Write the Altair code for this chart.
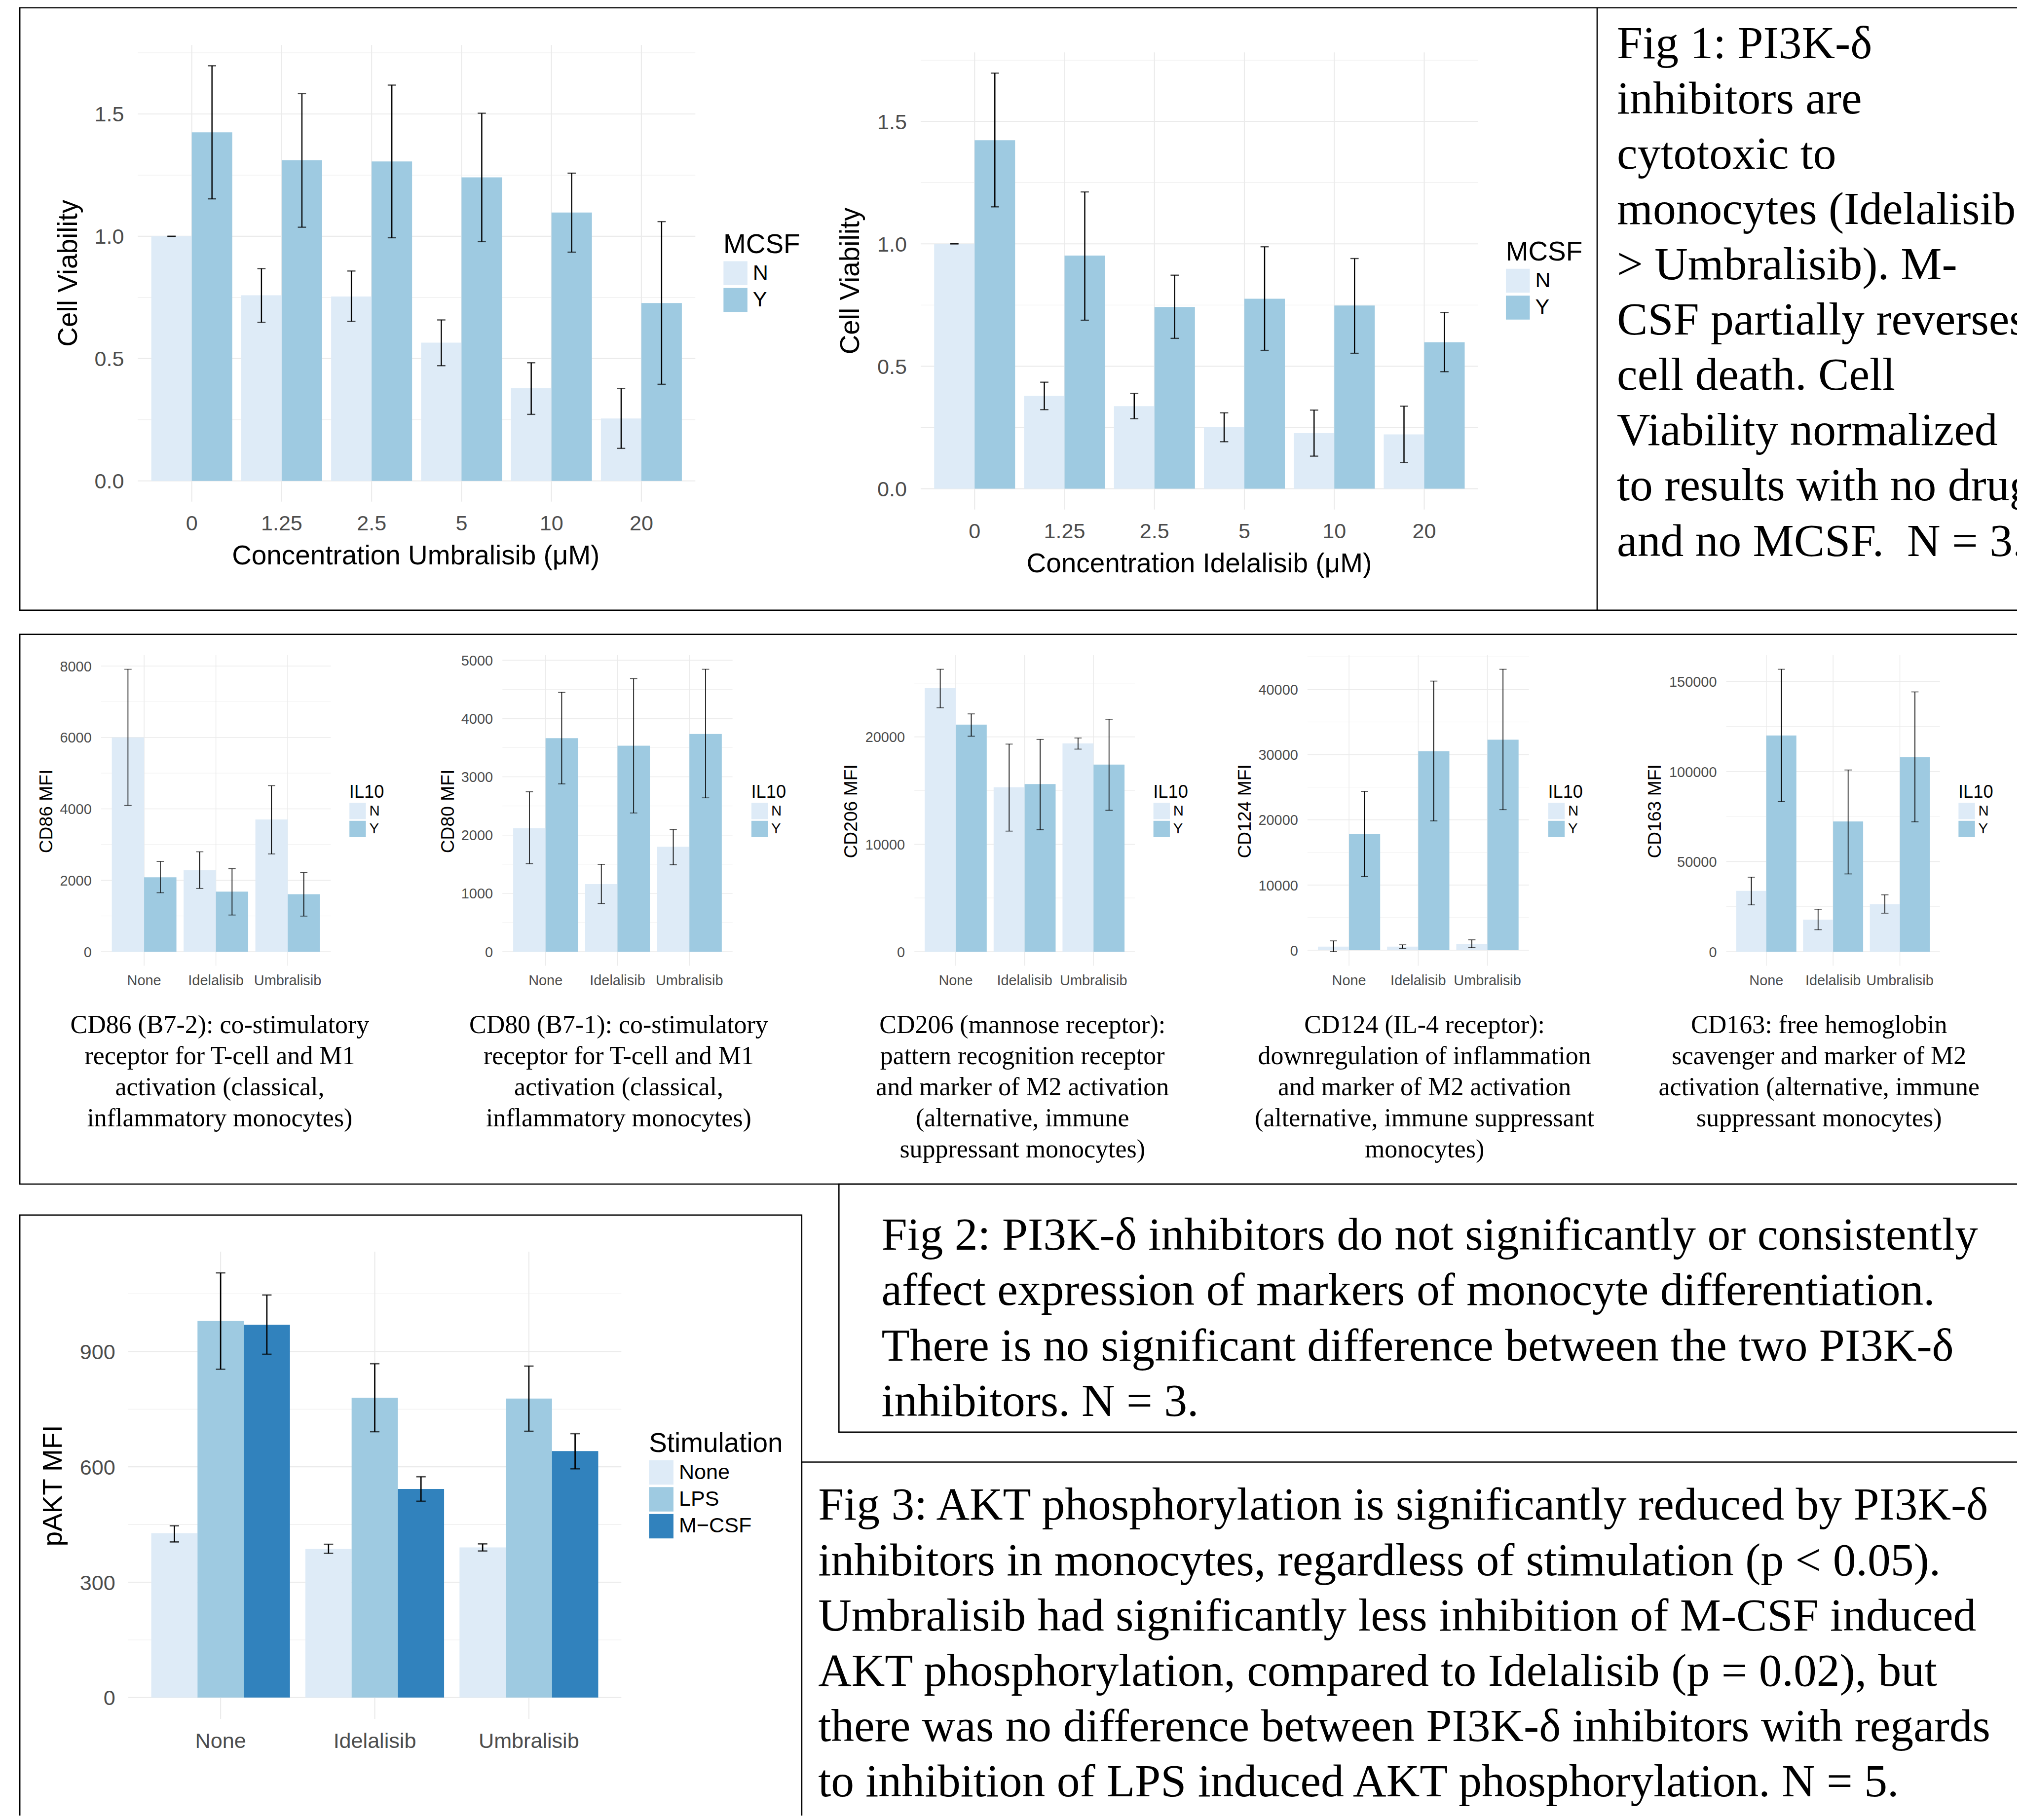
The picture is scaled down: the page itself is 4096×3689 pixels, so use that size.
import altair as alt
import pandas as pd

K = 0.98
W, H = 4080, 3672


def P(v):
    """reference pixel position -> chart coordinate"""
    return round(K * v - 8, 2)


def S(v):
    """reference size -> drawn size"""
    return round(K * v, 2)


SANS = "Liberation Sans"
SERIF = "Liberation Serif"
GRID = "#EBEBEB"
TICKLAB = "#4D4D4D"

# ---------------- Fig 1: cell viability ----------------
conc = ["0", "1.25", "2.5", "5", "10", "20"]
mcsf = ["N", "Y"]

umb_N = [1.00, 0.759, 0.754, 0.565, 0.379, 0.255]
umb_N_lo = [1.00, 0.648, 0.652, 0.471, 0.272, 0.133]
umb_N_hi = [1.00, 0.868, 0.858, 0.658, 0.483, 0.378]
umb_Y = [1.425, 1.311, 1.306, 1.241, 1.097, 0.727]
umb_Y_lo = [1.153, 1.037, 0.994, 0.978, 0.935, 0.395]
umb_Y_hi = [1.697, 1.583, 1.618, 1.503, 1.258, 1.060]

ide_N = [1.00, 0.379, 0.337, 0.253, 0.227, 0.222]
ide_N_lo = [1.00, 0.323, 0.286, 0.192, 0.133, 0.107]
ide_N_hi = [1.00, 0.435, 0.389, 0.310, 0.321, 0.337]
ide_Y = [1.423, 0.952, 0.742, 0.776, 0.748, 0.598]
ide_Y_lo = [1.151, 0.688, 0.614, 0.565, 0.553, 0.478]
ide_Y_hi = [1.697, 1.212, 0.872, 0.988, 0.940, 0.720]

# ---------------- Fig 2: differentiation markers ----------------
drugs = ["None", "Idelalisib", "Umbralisib"]
il10 = ["N", "Y"]

cd86_N = [6000, 2284, 3703]
cd86_N_lo = [4096, 1771, 2737]
cd86_N_hi = [7909, 2797, 4649]
cd86_Y = [2083, 1681, 1610]
cd86_Y_lo = [1650, 1026, 996]
cd86_Y_hi = [2526, 2325, 2214]

cd80_N = [2121, 1159, 1800]
cd80_N_lo = [1510, 826, 1492]
cd80_N_hi = [2744, 1498, 2096]
cd80_Y = [3662, 3533, 3736]
cd80_Y_lo = [2879, 2380, 2639]
cd80_Y_hi = [4451, 4686, 4846]

cd206_N = [24556, 15310, 19397]
cd206_N_lo = [22714, 11223, 18861]
cd206_N_hi = [26298, 19330, 19899]
cd206_Y = [21139, 15611, 17420]
cd206_Y_lo = [20067, 11357, 13166]
cd206_Y_hi = [22144, 19765, 21641]

cd124_N = [551, 551, 992]
cd124_N_lo = [-220, 275, 386]
cd124_N_hi = [1433, 826, 1598]
cd124_Y = [17851, 30523, 32287]
cd124_Y_lo = [11295, 19835, 21543]
cd124_Y_hi = [24353, 41267, 43085]

cd163_N = [33753, 17775, 26363]
cd163_N_lo = [25964, 12183, 21370]
cd163_N_hi = [41343, 23567, 31556]
cd163_Y = [120032, 72299, 108049]
cd163_Y_lo = [83283, 43140, 72099]
cd163_Y_hi = [156780, 100859, 144198]

# ---------------- Fig 3: pAKT ----------------
stims = ["None", "LPS", "M\u2212CSF"]
pakt_none = [427.4, 386.3, 390.4]
pakt_none_lo = [404.8, 375.0, 381.2]
pakt_none_hi = [446.9, 398.6, 399.7]
pakt_lps = [980.1, 779.8, 777.7]
pakt_lps_lo = [853.8, 691.4, 692.5]
pakt_lps_hi = [1104.5, 868.2, 862.0]
pakt_mcsf = [969.9, 542.5, 641.1]
pakt_mcsf_lo = [892.8, 510.6, 594.9]
pakt_mcsf_hi = [1046.9, 574.3, 686.3]

blue2 = ["#deebf7", "#9ecae1"]
blue3 = ["#deebf7", "#9ecae1", "#3182bd"]

# ---------------- texts ----------------
fig1_lines = ["Fig 1: PI3K-\u03b4", "inhibitors are", "cytotoxic to",
              "monocytes (Idelalisib", "> Umbralisib). M-", "CSF partially reverses",
              "cell death. Cell", "Viability normalized", "to results with no drug",
              "and no MCSF.\u00a0 N = 3."]
fig2_lines = ["Fig 2: PI3K-\u03b4 inhibitors do not significantly or consistently",
              "affect expression of markers of monocyte differentiation.",
              "There is no significant difference between the two PI3K-\u03b4",
              "inhibitors. N = 3."]
fig3_lines = ["Fig 3: AKT phosphorylation is significantly reduced by PI3K-\u03b4",
              "inhibitors in monocytes, regardless of stimulation (p < 0.05).",
              "Umbralisib had significantly less inhibition of M-CSF induced",
              "AKT phosphorylation, compared to Idelalisib (p = 0.02), but",
              "there was no difference between PI3K-\u03b4 inhibitors with regards",
              "to inhibition of LPS induced AKT phosphorylation. N = 5."]
cap_cd86 = ["CD86 (B7-2): co-stimulatory", "receptor for T-cell and M1",
            "activation (classical,", "inflammatory monocytes)"]
cap_cd80 = ["CD80 (B7-1): co-stimulatory", "receptor for T-cell and M1",
            "activation (classical,", "inflammatory monocytes)"]
cap_cd206 = ["CD206 (mannose receptor):", "pattern recognition receptor",
             "and marker of M2 activation", "(alternative, immune",
             "suppressant monocytes)"]
cap_cd124 = ["CD124 (IL-4 receptor):", "downregulation of inflammation",
             "and marker of M2 activation", "(alternative, immune suppressant",
             "monocytes)"]
cap_cd163 = ["CD163: free hemoglobin", "scavenger and marker of M2",
             "activation (alternative, immune", "suppressant monocytes)"]

one = pd.DataFrame({"k": [0]})


def frame(cats, groups, means, los, his):
    rows = []
    for gi, g in enumerate(groups):
        for ci, c in enumerate(cats):
            rows.append({"cat": c, "grp": g, "mean": means[gi][ci],
                         "lo": los[gi][ci], "hi": his[gi][ci]})
    return pd.DataFrame(rows)


def label_text(txt, x, y, fs, angle=0, align="center", font=SANS, color="black"):
    mk = dict(align=align, baseline="alphabetic", font=font, fontSize=S(fs), color=color)
    if angle:
        mk["angle"] = angle
    return alt.Chart(one).mark_text(**mk).encode(
        x=alt.value(P(x)), y=alt.value(P(y)), text=alt.value(txt))


def panel(df, cats, groups, colors, box, majors, minors, fmt, fs_tick, fs_title,
          ylab_pad, xlab_base, ytitle, ytitle_at, xtitle, xtitle_at,
          leg_title, leg_at, leg_fs_title, leg_fs_label, key, pitch, lab_off, keys_top,
          grid_w, err_w, cap):
    pl, pr, pt, pb = box
    lo = min(0.0, float(df["lo"].min()))
    hi = float(df["hi"].max())
    span = hi - lo
    ydom = [lo - 0.05 * span, hi + 0.05 * span]

    xscale = alt.Scale(domain=cats, range=[P(pl), P(pr)], paddingInner=0.1, paddingOuter=0.15)
    yscale = alt.Scale(domain=ydom, range=[P(pb), P(pt)], nice=False, zero=False)
    oscale = alt.Scale(domain=groups, paddingInner=0, paddingOuter=0)
    xn = alt.X("cat:N", sort=cats, scale=xscale, axis=None)

    maj_df = pd.DataFrame({"v": majors})
    min_df = pd.DataFrame({"v": minors})
    cat_df = pd.DataFrame({"cat": cats})

    h_minor = alt.Chart(min_df).mark_rule(color=GRID, strokeWidth=S(grid_w / 2)).encode(
        y=alt.Y("v:Q", scale=yscale, axis=None), x=alt.value(P(pl)), x2=alt.value(P(pr)))
    h_major = alt.Chart(maj_df).mark_rule(color=GRID, strokeWidth=S(grid_w)).encode(
        y=alt.Y("v:Q", scale=yscale, axis=None), x=alt.value(P(pl)), x2=alt.value(P(pr)))
    v_major = alt.Chart(cat_df).mark_rule(color=GRID, strokeWidth=S(grid_w)).encode(
        x=xn, y=alt.value(P(pt)), y2=alt.value(P(pb)))

    y_labels = alt.Chart(maj_df).mark_text(
        align="right", baseline="middle", dy=round(0.058 * S(fs_tick), 2), font=SANS,
        fontSize=S(fs_tick), color=TICKLAB).encode(
        y=alt.Y("v:Q", scale=yscale, axis=None), x=alt.value(round(P(pl) - S(ylab_pad), 2)),
        text=alt.Text("v:Q", format=fmt))
    x_labels = alt.Chart(cat_df).mark_text(
        align="center", baseline="alphabetic", font=SANS, fontSize=S(fs_tick),
        color=TICKLAB).encode(x=xn, y=alt.value(P(xlab_base)), text="cat:N")

    leg_y = P(leg_at[1])
    legend = alt.Legend(orient="none", legendX=P(leg_at[0]), legendY=leg_y,
                        title=leg_title, titleFont=SANS, titleFontSize=S(leg_fs_title),
                        titleFontWeight="normal", titleColor="black",
                        titlePadding=round(P(keys_top) - (leg_y + S(leg_fs_title)), 2),
                        titleLimit=2000, titleAnchor="start",
                        labelFont=SANS, labelFontSize=S(leg_fs_label), labelColor="black",
                        labelOffset=S(lab_off), labelLimit=2000,
                        symbolType="square", symbolSize=round(S(key) ** 2, 1),
                        symbolStrokeWidth=0, symbolOpacity=1,
                        rowPadding=round(S(pitch) - S(key), 2), padding=0)

    base = alt.Chart(df)
    xo = alt.XOffset("grp:N", sort=groups, scale=oscale)
    bars = base.mark_bar().encode(
        x=xn, xOffset=xo,
        y=alt.Y("mean:Q", scale=yscale, axis=None),
        y2=alt.Y2Datum(0),
        color=alt.Color("grp:N", sort=groups, scale=alt.Scale(domain=groups, range=colors),
                        legend=legend),
    )
    rules = base.mark_rule(color="black", strokeWidth=S(err_w)).encode(
        x=xn, xOffset=xo, y=alt.Y("lo:Q", scale=yscale, axis=None), y2="hi:Q")
    t_lo = base.mark_tick(color="black", orient="horizontal", size=S(cap),
                          thickness=S(err_w)).encode(
        x=xn, xOffset=xo, y=alt.Y("lo:Q", scale=yscale, axis=None))
    t_hi = base.mark_tick(color="black", orient="horizontal", size=S(cap),
                          thickness=S(err_w)).encode(
        x=xn, xOffset=xo, y=alt.Y("hi:Q", scale=yscale, axis=None))

    parts = [h_minor, h_major, v_major, bars, rules, t_lo, t_hi, y_labels, x_labels,
             label_text(ytitle, ytitle_at[0], ytitle_at[1], fs_title, angle=270)]
    if xtitle:
        parts.append(label_text(xtitle, xtitle_at[0], xtitle_at[1], fs_title))
    return alt.layer(*parts)


def textblock(lines, x, y, fs, lh, align="left"):
    return alt.Chart(one).mark_text(
        align=align, baseline="alphabetic", font=SERIF, fontSize=S(fs),
        lineHeight=S(lh), color="black").encode(
        x=alt.value(P(x)), y=alt.value(P(y)), text=alt.value(lines))


def frame_rect(x1, y1, x2, y2):
    return alt.Chart(one).mark_rect(fillOpacity=0, stroke="black", strokeWidth=S(2.6)).encode(
        x=alt.value(P(x1)), x2=alt.value(P(x2)), y=alt.value(P(y1)), y2=alt.value(P(y2)))


layers = []

# borders
layers.append(frame_rect(41, 16, 4400, 1262))
layers.append(alt.Chart(one).mark_rule(color="black", strokeWidth=S(2.6)).encode(
    x=alt.value(P(3303)), y=alt.value(P(16)), y2=alt.value(P(1262))))
layers.append(frame_rect(41, 1312, 4400, 2449))
layers.append(frame_rect(41, 2513, 1658, 3900))
layers.append(frame_rect(1735, 2449, 4400, 2962))
layers.append(frame_rect(1658, 3024, 4400, 3900))

# Fig 1 panels
top_common = dict(majors=[0, 0.5, 1.0, 1.5], minors=[0.25, 0.75, 1.25, 1.75], fmt=".1f",
                  fs_tick=44, fs_title=56, ylab_pad=28.5,
                  leg_title="MCSF", leg_fs_title=56, leg_fs_label=44, key=49.5, pitch=55,
                  lab_off=11, grid_w=2.2, err_w=2.5, cap=17)
df_umb = frame(conc, mcsf, [umb_N, umb_Y], [umb_N_lo, umb_Y_lo], [umb_N_hi, umb_Y_hi])
df_ide = frame(conc, mcsf, [ide_N, ide_Y], [ide_N_lo, ide_Y_lo], [ide_N_hi, ide_Y_hi])
layers.append(panel(df_umb, conc, mcsf, blue2, (285, 1438, 93.1, 1037.6), xlab_base=1096.7,
                    ytitle="Cell Viability", ytitle_at=(159, 565),
                    xtitle="Concentration Umbralisib (\u03bcM)", xtitle_at=(860, 1167),
                    leg_at=(1496, 479.8), keys_top=540, **top_common))
layers.append(panel(df_ide, conc, mcsf, blue2, (1904, 3057, 108.3, 1053.8), xlab_base=1112.9,
                    ytitle="Cell Viability", ytitle_at=(1777, 581),
                    xtitle="Concentration Idelalisib (\u03bcM)", xtitle_at=(2480, 1183.4),
                    leg_at=(3114, 494.8), keys_top=555.6, **top_common))

# Fig 2 panels
small_common = dict(fs_tick=29.5, fs_title=38, ylab_pad=19.5, xlab_base=2038,
                    xtitle=None, xtitle_at=None, leg_title="IL10", leg_fs_title=37,
                    leg_fs_label=30, key=34, pitch=36.7, lab_off=6.7, keys_top=1660,
                    grid_w=1.6, err_w=1.7, cap=15, fmt="d")
small_specs = [
    ("CD86 MFI", [cd86_N, cd86_Y], [cd86_N_lo, cd86_Y_lo], [cd86_N_hi, cd86_Y_hi],
     (209, 684), 108.4, 722.3, [0, 2000, 4000, 6000, 8000], [1000, 3000, 5000, 7000]),
    ("CD80 MFI", [cd80_N, cd80_Y], [cd80_N_lo, cd80_Y_lo], [cd80_N_hi, cd80_Y_hi],
     (1039, 1515), 939, 1553.6, [0, 1000, 2000, 3000, 4000, 5000],
     [500, 1500, 2500, 3500, 4500]),
    ("CD206 MFI", [cd206_N, cd206_Y], [cd206_N_lo, cd206_Y_lo], [cd206_N_hi, cd206_Y_hi],
     (1891, 2347), 1772.5, 2385, [0, 10000, 20000], [5000, 15000, 25000]),
    ("CD124 MFI", [cd124_N, cd124_Y], [cd124_N_lo, cd124_Y_lo], [cd124_N_hi, cd124_Y_hi],
     (2704, 3162), 2586.7, 3201.5, [0, 10000, 20000, 30000, 40000],
     [5000, 15000, 25000, 35000, 45000]),
    ("CD163 MFI", [cd163_N, cd163_Y], [cd163_N_lo, cd163_Y_lo], [cd163_N_hi, cd163_Y_hi],
     (3570, 4012), 3434.5, 4050, [0, 50000, 100000, 150000], [25000, 75000, 125000]),
]
for title, m, lo_, hi_, (pl, pr), tx, lx, maj, mnr in small_specs:
    d = frame(drugs, il10, m, lo_, hi_)
    layers.append(panel(d, drugs, il10, blue2, (pl, pr, 1355, 1997.5), majors=maj, minors=mnr,
                        ytitle=title, ytitle_at=(tx, 1678), leg_at=(lx, 1620.8),
                        **small_common))

# Fig 3 panel
df_pakt = frame(drugs, stims, [pakt_none, pakt_lps, pakt_mcsf],
                [pakt_none_lo, pakt_lps_lo, pakt_mcsf_lo],
                [pakt_none_hi, pakt_lps_hi, pakt_mcsf_hi])
layers.append(panel(df_pakt, drugs, stims, blue3, (265, 1285, 2588.7, 3555),
                    majors=[0, 300, 600, 900], minors=[150, 450, 750, 1050], fmt="d",
                    fs_tick=44, fs_title=56, ylab_pad=26.5, xlab_base=3615,
                    ytitle="pAKT MFI", ytitle_at=(128, 3073), xtitle=None, xtitle_at=None,
                    leg_title="Stimulation", leg_at=(1342, 2958.8), leg_fs_title=56,
                    leg_fs_label=44, key=50.5, pitch=55, lab_off=11, keys_top=3020,
                    grid_w=2.2, err_w=2.8, cap=19.5))

# text blocks
layers.append(textblock(fig1_lines, 3344, 120, 95.5, 114.4))
layers.append(textblock(fig2_lines, 1823, 2585, 95.5, 114.4))
layers.append(textblock(fig3_lines, 1692, 3143.3, 95.5, 114.4))
for lines, cx in [(cap_cd86, 454.5), (cap_cd80, 1279.5), (cap_cd206, 2114.5),
                  (cap_cd124, 2946), (cap_cd163, 3762)]:
    layers.append(textblock(lines, cx, 2137, 53, 64.2, align="center"))

chart = alt.layer(*layers).resolve_scale(
    x="independent", y="independent", color="independent", xOffset="independent"
).resolve_legend(
    color="independent"
).properties(
    width=W, height=H, autosize=alt.AutoSizeParams(type="none"), padding=0,
    background="white"
).configure_view(strokeWidth=0)

chart.save("out.html", embed_options={"renderer": "svg", "actions": False})
